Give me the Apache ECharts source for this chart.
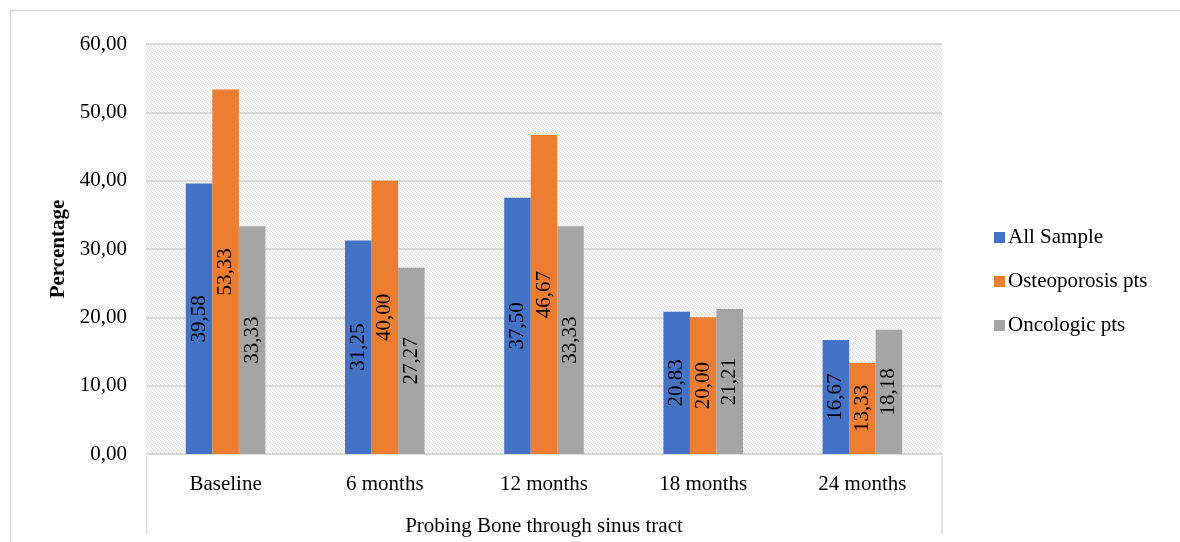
<!DOCTYPE html>
<html>
<head>
<meta charset="utf-8">
<script src="https://cdn.jsdelivr.net/npm/echarts@6/dist/echarts.min.js"></script>
<style>
  html, body { margin: 0; padding: 0; background: #fff; }
  #chart { width: 1180px; height: 542px; }
</style>
</head>
<body>
<div id="chart"></div>
<script>
// Time points along the category axis
const categories = ['Baseline', '6 months', '12 months', '18 months', '24 months'];
// Percentage of positive probe-to-bone per group
const allSample = [39.58, 31.25, 37.50, 20.83, 16.67];
const osteoporosis = [53.33, 40.00, 46.67, 20.00, 13.33];
const oncologic = [33.33, 27.27, 33.33, 21.21, 18.18];
const seriesNames = ['All Sample', 'Osteoporosis pts', 'Oncologic pts'];
const seriesColors = ['#4472C4', '#ED7D31', '#A5A5A5'];

const FONT = '"Liberation Serif", "Times New Roman", serif';
const fmt = v => Number(v).toFixed(2).replace('.', ',');

// Fine dotted texture for the plot area
function makePattern() {
  const c = document.createElement('canvas');
  c.width = 4; c.height = 4;
  const g = c.getContext('2d');
  g.fillStyle = '#f5f5f5';
  g.fillRect(0, 0, 4, 4);
  g.fillStyle = '#e2e2e2';
  g.fillRect(0, 0, 1, 1);
  g.fillRect(2, 1, 1, 1);
  g.fillRect(1, 2, 1, 1);
  g.fillRect(3, 3, 1, 1);
  return c;
}

const chart = echarts.init(document.getElementById('chart'), null, { renderer: 'canvas' });

const GRID = { left: 146, right: 238, top: 44, bottom: 86 };

const mk = (name, data, color) => ({
  name: name,
  type: 'bar',
  data: data,
  barGap: '0%',
  barCategoryGap: '50%',
  itemStyle: { color: color },
  label: {
    show: true,
    position: 'inside',
    rotate: 90,
    formatter: p => fmt(p.value),
    color: '#000',
    fontFamily: FONT,
    fontSize: 21
  }
});

chart.setOption({
  animation: false,
  backgroundColor: '#fff',
  textStyle: { fontFamily: FONT },
  grid: {
    left: GRID.left, right: GRID.right, top: GRID.top, bottom: GRID.bottom,
    show: true,
    borderWidth: 0,
    backgroundColor: { image: makePattern(), repeat: 'repeat' }
  },
  legend: {
    orient: 'vertical',
    left: 989,
    top: 222,
    itemWidth: 11,
    itemHeight: 11,
    itemGap: 23,
    icon: 'rect',
    data: seriesNames,
    textStyle: { fontFamily: FONT, fontSize: 21, color: '#000', padding: [0, 0, 0, -2] }
  },
  xAxis: {
    type: 'category',
    data: categories,
    axisLine: { show: true, lineStyle: { color: '#d9d9d9', width: 1.5 } },
    axisTick: { show: false },
    axisLabel: { color: '#000', fontFamily: FONT, fontSize: 21, margin: 20 },
    name: 'Probing Bone through sinus tract',
    nameLocation: 'middle',
    nameGap: 62,
    nameTextStyle: { color: '#000', fontFamily: FONT, fontSize: 21 }
  },
  yAxis: {
    type: 'value',
    min: 0,
    max: 60,
    interval: 10,
    axisLine: { show: false },
    axisTick: { show: false },
    splitLine: { lineStyle: { color: '#d9d9d9', width: 2 } },
    axisLabel: { color: '#000', fontFamily: FONT, fontSize: 21, margin: 19, formatter: fmt },
    name: 'Percentage',
    nameLocation: 'middle',
    nameRotate: 90,
    nameGap: 70,
    nameTextStyle: { color: '#000', fontFamily: FONT, fontSize: 21, fontWeight: 'bold' }
  },
  graphic: [
    // outer chart frame
    { type: 'rect', left: 8, top: 8, shape: { width: 1200, height: 600 },
      style: { fill: 'none', stroke: '#d9d9d9', lineWidth: 1.5 }, silent: true },
    // category axis box sides
    { type: 'line', shape: { x1: 146.5, y1: 456, x2: 146.5, y2: 534 },
      style: { stroke: '#d9d9d9', lineWidth: 1.5 }, silent: true },
    { type: 'line', shape: { x1: 942, y1: 456, x2: 942, y2: 534 },
      style: { stroke: '#d9d9d9', lineWidth: 1.5 }, silent: true }
  ],
  series: [
    mk(seriesNames[0], allSample, seriesColors[0]),
    mk(seriesNames[1], osteoporosis, seriesColors[1]),
    mk(seriesNames[2], oncologic, seriesColors[2])
  ]
});
</script>
</body>
</html>
